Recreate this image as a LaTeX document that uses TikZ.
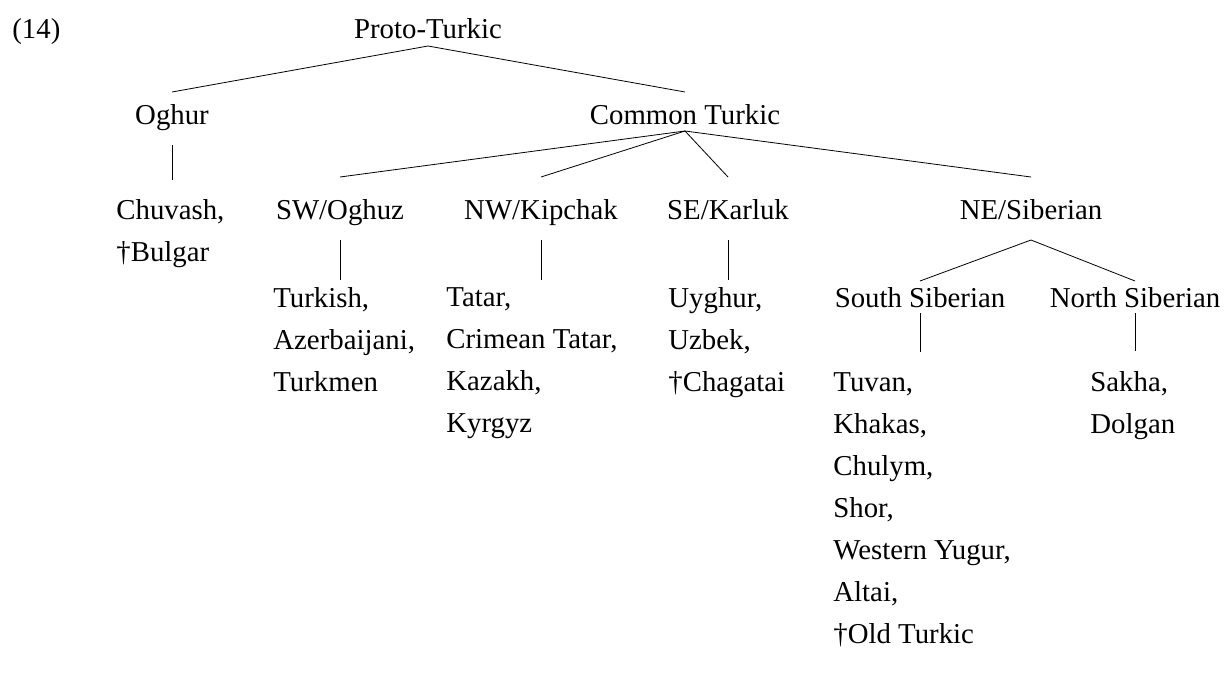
\documentclass[tikz,border=0pt]{standalone}
\usepackage{fontspec}
\setmainfont{Liberation Serif}
\usetikzlibrary{positioning}

\begin{document}
\begin{tikzpicture}[x = .5pt, y = -.5pt,
    every node/.style = {inner sep = 0pt, font = \fontsize{14.4}{21}\selectfont},
    lang/.style = {anchor = base},
    group/.style = {anchor = north west, align = left}]
  \useasboundingbox (0,0) rectangle (1225,680);
  \node[anchor = base west] (ex) at (12,39) {(14)};
  \node[lang] (pt) at (428,39) {Proto-Turkic};
  \node[lang] (og) at (172,124) {Oghur};
  \node[lang] (ct) at (685,124) {Common Turkic};
  \node[lang] (sw) at (340,219) {SW/Oghuz};
  \node[lang] (nw) at (541,219) {NW/Kipchak};
  \node[lang] (se) at (728,219) {SE/Karluk};
  \node[lang] (ne) at (1031,219) {NE/Siberian};
  \node[lang] (ss) at (920,307) {South Siberian};
  \node[lang] (ns) at (1135,307) {North Siberian};
  % language lists
  \node[group] (ch) at (116,199) {Chuvash,\\†Bulgar};
  \node[group] (tk) at (273,287) {Turkish,\\Azerbaijani,\\Turkmen};
  \node[group] (tt) at (446,287) {Tatar,\\Crimean Tatar,\\Kazakh,\\Kyrgyz};
  \node[group] (uy) at (668,287) {Uyghur,\\Uzbek,\\†Chagatai};
  \node[group] (tv) at (833,372) {Tuvan,\\Khakas,\\Chulym,\\Shor,\\Western Yugur,\\Altai,\\†Old Turkic};
  \node[group] (sk) at (1090,371) {Sakha,\\Dolgan};
  % branches
  \draw ([yshift=-3.5pt]pt.base) -- ([yshift=16pt]og.base);
  \draw ([yshift=-3.5pt]pt.base) -- ([yshift=16pt]ct.base);
  \foreach \b in {sw,nw,se,ne}
    \draw ([yshift=-3.5pt]ct.base) -- ([yshift=21pt]\b.base);
  \draw ([yshift=-10.5pt]ne.base) -- ([yshift=13pt]ss.base);
  \draw ([yshift=-10.5pt]ne.base) -- ([yshift=13pt]ns.base);
  \draw[shorten <= 10.5pt, shorten >= 9.5pt] (og.base) -- (og.base |- ch.north);
  \draw[shorten <= 10.5pt, shorten >= 3.5pt] (sw.base) -- (sw.base |- tk.north);
  \draw[shorten <= 10.5pt, shorten >= 3.5pt] (nw.base) -- (nw.base |- tt.north);
  \draw[shorten <= 10.5pt, shorten >= 3.5pt] (se.base) -- (se.base |- uy.north);
  \draw[shorten <= 3pt, shorten >= 10pt] (ss.base) -- (ss.base |- tv.north);
  \draw[shorten <= 3pt, shorten >= 10pt] (ns.base) -- (ns.base |- sk.north);
\end{tikzpicture}
\end{document}
